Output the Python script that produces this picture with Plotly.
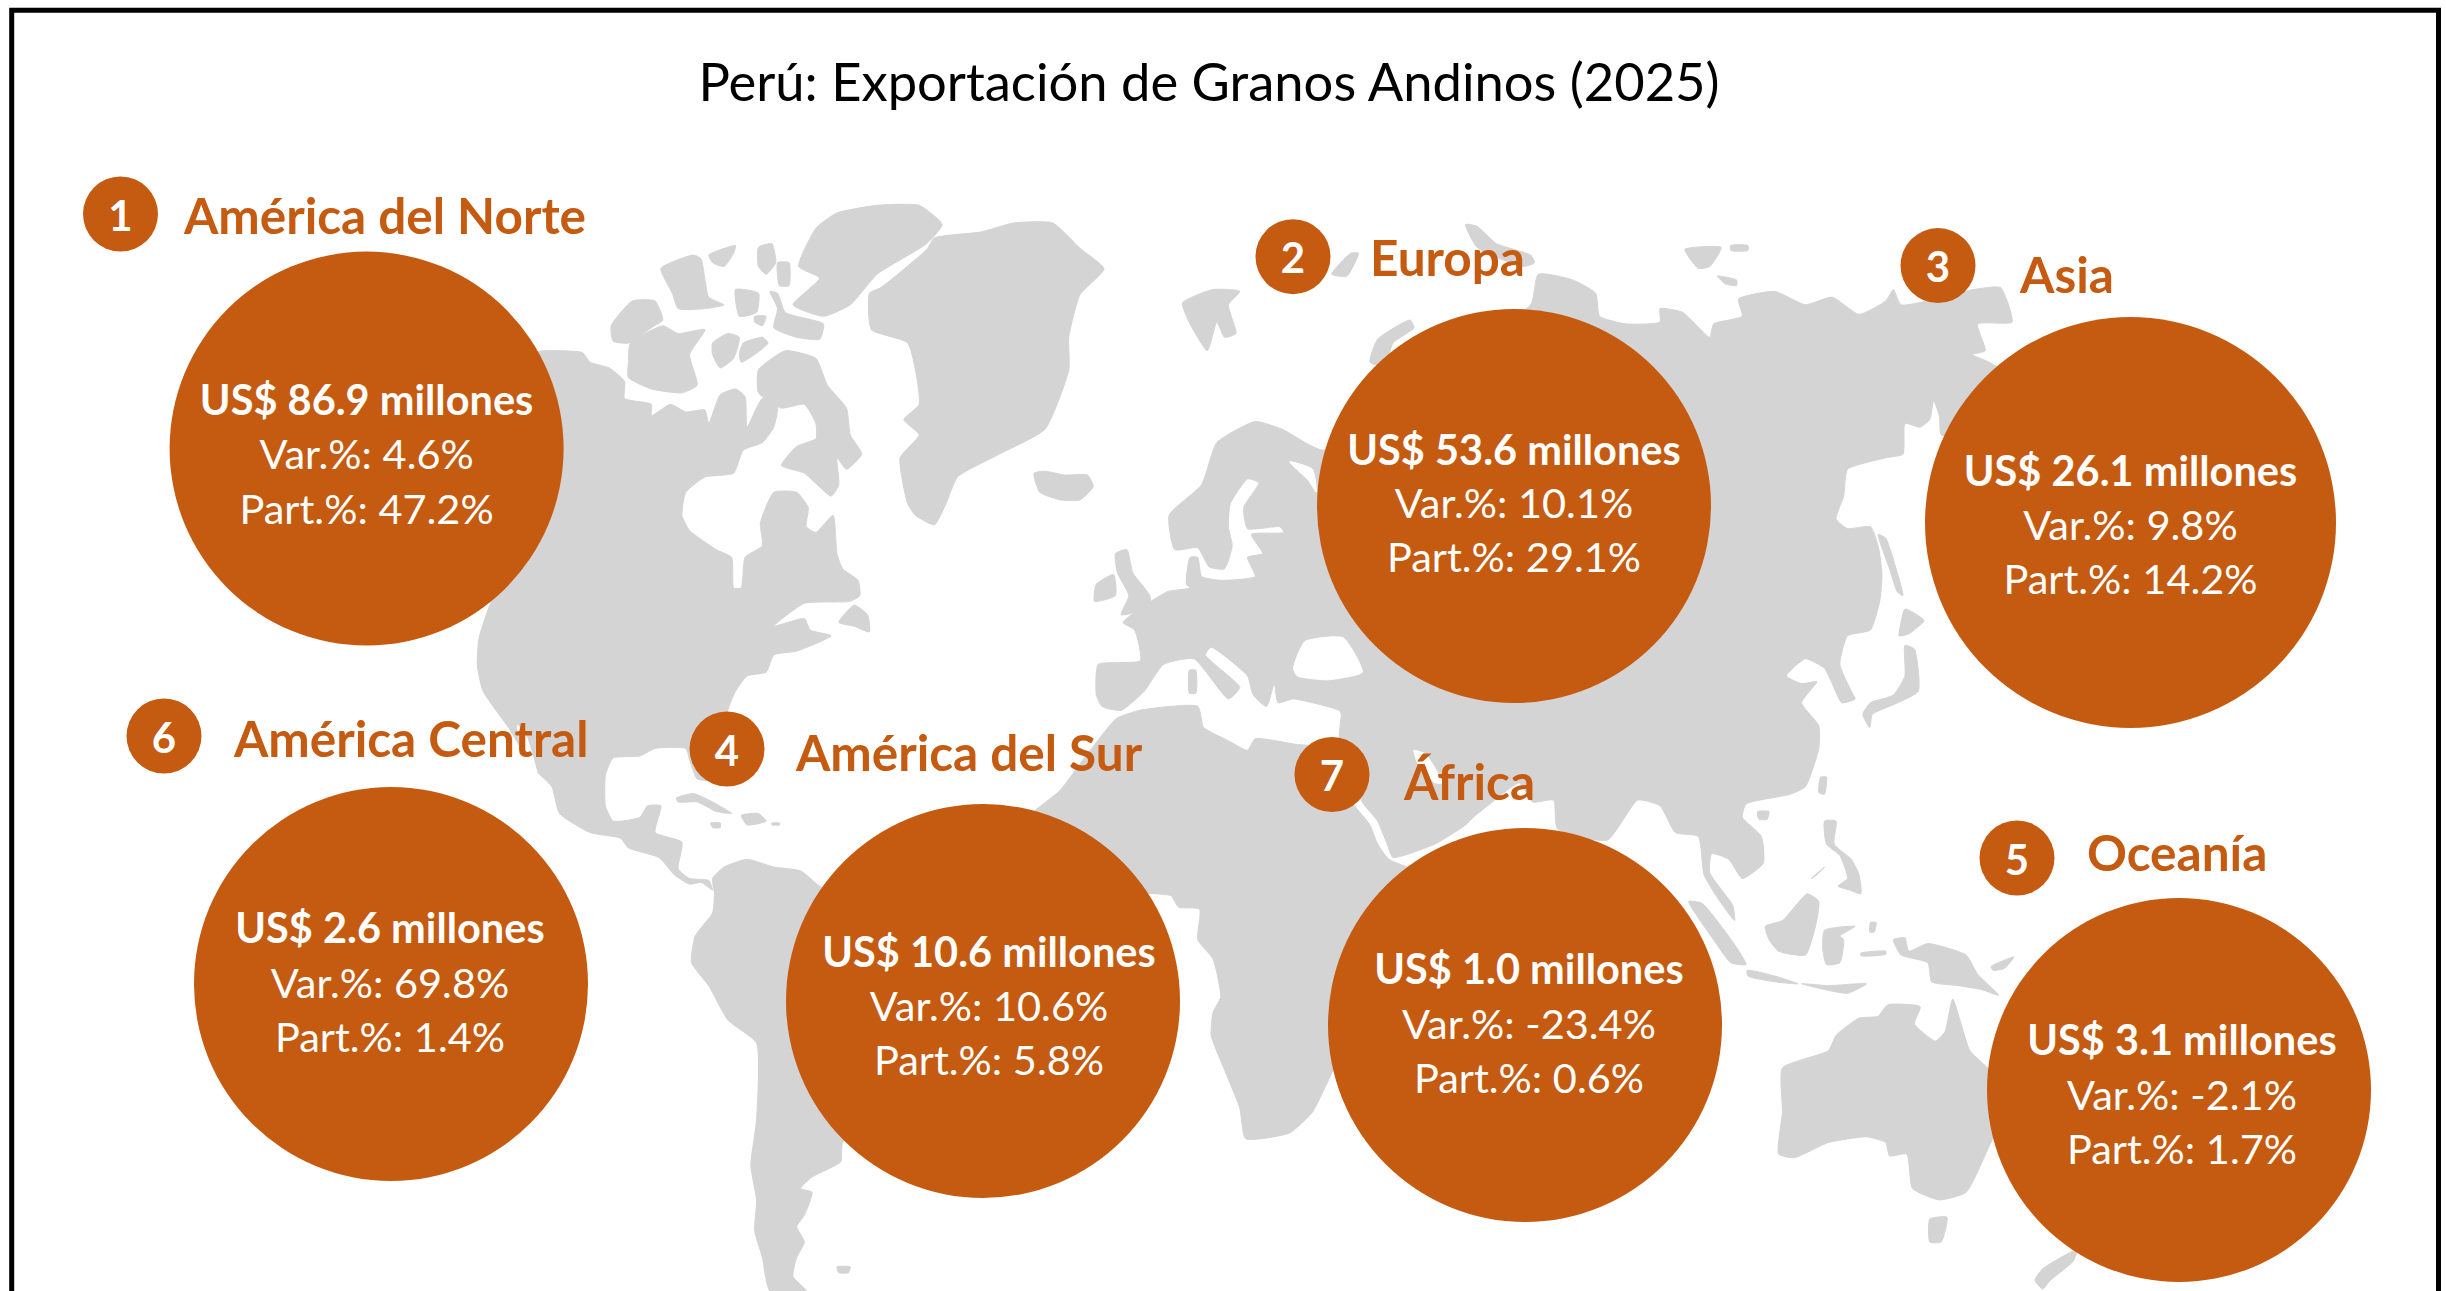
import plotly.graph_objects as go

# ---------- data ----------
TITLE = "Perú: Exportación de Granos Andinos (2025)"
ORDER = ["1", "2", "3", "6", "4", "7", "5"]
REGIONS = ["América del Norte", "Europa", "Asia", "América Central", "América del Sur", "África", "Oceanía"]
VALUES = [86.9, 53.6, 26.1, 2.6, 10.6, 1.0, 3.1]
VAR_PCT = [4.6, 10.1, 9.8, 69.8, 10.6, -23.4, -2.1]
PART_PCT = [47.2, 29.1, 14.2, 1.4, 5.8, 0.6, 1.7]

# ---------- layout of the infographic (page pixels) ----------
BIG_X = [366.6, 1514, 2130.5, 391, 983, 1525, 2179]
BIG_Y = [448.6, 506, 522.5, 984, 1001, 1025, 1090]
BIG_D = [394, 394, 411, 394, 394, 394, 384]
TXT_X = [366.6, 1514, 2130.5, 390, 989, 1529, 2182]
L1_Y = [404.5, 454.5, 475.5, 932.5, 956.5, 973.5, 1045]
L2_Y = [459, 507.5, 529.5, 987.5, 1011, 1028.5, 1099.5]
L3_Y = [513.5, 562, 583.5, 1041.5, 1064.5, 1082.5, 1153.5]
NUM_X = [120.5, 1293, 1938, 164, 727, 1332, 2017]
NUM_Y = [214, 256.7, 265.6, 736, 749, 774.5, 858]
NUM_TXT_Y = [220, 262.7, 271.6, 742, 755, 780.5, 864]
LAB_X = [184, 1370, 2020, 234, 796, 1404, 2087]
LAB_Y = [222, 264, 281, 745, 759, 788, 859]

ORANGE = "#C55A11"
GREY = "#D4D4D4"
FONT = "Lato"
K = 600 / 1568


def crop(ox, oy, pts):
    return [(ox + a * K, oy + b * K) for a, b in pts]


A = (460, 190)
B = (460, 691)
C = (1060, 190)
D = (1660, 190)
E = (1060, 691)
F = (1660, 691)

# ---------- map outlines ----------
NORTH_AMERICA = crop(*A, [(0, 600), (0, 430), (150, 430), (220, 420), (320, 425), (340, 450), (390, 465), (430, 500), (430, 545), (500, 560), (500, 590), (550, 560), (590, 580), (640, 575), (650, 610), (680, 535), (720, 520), (745, 540), (750, 620), (790, 545), (830, 560), (820, 620), (790, 660), (740, 680), (715, 740), (640, 750), (590, 790), (580, 850), (600, 890), (670, 940), (710, 960), (715, 1040), (735, 1040), (745, 960), (790, 930), (785, 870), (820, 790), (880, 790), (910, 830), (905, 880), (930, 895), (975, 850), (985, 950), (1000, 990), (1040, 1020), (1045, 1060), (1020, 1075), (900, 1080), (820, 1140), (900, 1120), (915, 1150), (970, 1165), (880, 1205), (820, 1215), (800, 1260), (750, 1270), (720, 1310)]) + crop(*B, [(700, 50), (680, 230), (620, 230), (600, 180), (590, 150), (510, 150), (470, 170), (400, 175), (380, 220), (380, 300), (400, 340), (470, 330), (490, 300), (525, 300), (510, 370), (580, 395), (570, 465), (600, 490), (650, 495), (660, 520), (630, 500), (600, 505), (560, 480), (520, 435), (440, 410), (420, 385), (340, 370), (260, 320), (240, 250), (190, 200), (130, 100), (60, 0)]) + crop(*A, [(45, 1240), (50, 1170), (80, 1080), (100, 1050), (0, 1100)])
GULF_CALIFORNIA = crop(*B, [(150, 90), (170, 110), (210, 260), (195, 262), (165, 170)])
BANKS = crop(*A, [(395, 355), (450, 290), (510, 290), (530, 340), (500, 360), (440, 400), (400, 395)])
VICTORIA = crop(*A, [(445, 400), (530, 355), (570, 375), (640, 365), (600, 430), (620, 510), (580, 530), (500, 520), (440, 490), (440, 450)])
PRINCE_WALES = crop(*A, [(660, 400), (700, 375), (730, 385), (715, 440), (680, 465), (660, 430)])
SOMERSET = crop(*A, [(740, 400), (790, 385), (805, 400), (770, 430), (735, 450), (730, 430)])
BAFFIN = crop(*A, [(780, 470), (850, 420), (930, 440), (960, 510), (1010, 570), (1020, 640), (1050, 690), (1010, 730), (985, 700), (990, 770), (970, 800), (900, 740), (840, 720), (880, 670), (930, 650), (930, 610), (900, 560), (840, 570), (780, 530)])
QE1 = crop(*A, [(525, 205), (610, 170), (630, 180), (650, 280), (690, 300), (640, 310), (570, 310), (555, 270)])
QE2 = crop(*A, [(650, 170), (720, 145), (715, 165), (690, 200), (660, 190)])
QE3 = crop(*A, [(780, 150), (815, 140), (825, 190), (800, 220), (780, 200)])
QE4 = crop(*A, [(830, 190), (860, 190), (860, 250), (835, 250)])
QE5 = crop(*A, [(720, 260), (780, 270), (775, 320), (730, 330)])
DEVON = crop(*A, [(810, 265), (830, 270), (850, 320), (950, 350), (940, 390), (880, 385), (820, 360), (830, 310)])
QE6 = crop(*A, [(770, 330), (800, 330), (790, 355), (770, 345)])
ELLESMERE = crop(*A, [(885, 200), (930, 100), (985, 60), (1090, 40), (1200, 40), (1260, 90), (1220, 140), (1090, 220), (1020, 300), (950, 330), (870, 300), (940, 230)])
GREENLAND = crop(*A, [(1070, 270), (1100, 255), (1220, 155), (1240, 125), (1360, 110), (1448, 86), (1549, 86), (1620, 152), (1683, 206), (1620, 274), (1591, 384), (1591, 470), (1529, 625), (1406, 692), (1300, 750), (1270, 820), (1240, 875), (1190, 850), (1170, 820), (1150, 700), (1200, 640), (1160, 600), (1200, 560), (1170, 400), (1075, 365)])
ICELAND = crop(*A, [(1500, 740), (1530, 735), (1580, 745), (1640, 745), (1655, 775), (1620, 810), (1570, 810), (1515, 790)])
NEWFOUNDLAND = crop(*A, [(990, 1130), (1030, 1085), (1065, 1110), (1070, 1155), (1030, 1140)])
CUBA = crop(*B, [(565, 280), (610, 268), (660, 290), (710, 320), (670, 315), (620, 290), (570, 290)])
HISPANIOLA = crop(*B, [(735, 325), (780, 320), (800, 340), (750, 350)])
JAMAICA = crop(*B, [(655, 345), (680, 345), (680, 357), (660, 357)])
PUERTO_RICO = crop(*B, [(815, 345), (835, 345), (835, 350), (815, 350)])
SOUTH_AMERICA = crop(*B, [(660, 490), (690, 460), (750, 440), (820, 460), (890, 470), (940, 510), (1300, 700), (1200, 1000), (1000, 1180), (995, 1230), (920, 1270), (890, 1300), (920, 1310), (900, 1370), (880, 1400), (900, 1440), (880, 1480), (870, 1530), (905, 1568), (810, 1568), (790, 1480), (770, 1410), (775, 1330), (760, 1240), (775, 1120), (775, 920), (700, 860), (650, 770), (605, 710), (615, 640), (660, 580), (665, 530)])
FALKLAND = crop(*B, [(985, 1505), (1020, 1505), (1015, 1520), (990, 1520)])
SVALBARD = crop(*C, [(320, 295), (400, 260), (470, 265), (440, 300), (460, 375), (430, 385), (410, 345), (385, 420), (340, 350)])
FRANZ = crop(*C, [(710, 220), (760, 165), (780, 165), (750, 225)])
NOVAYA = crop(*C, [(810, 450), (830, 390), (915, 340), (925, 360), (870, 400), (850, 460)])
ARCTIC1 = crop(*C, [(1060, 90), (1090, 95), (1140, 140), (1230, 170), (1240, 190), (1210, 200), (1090, 150)])
ARCTIC2 = crop(*D, [(65, 155), (160, 150), (130, 200), (100, 205)])
ARCTIC3 = crop(*D, [(185, 145), (230, 145), (230, 158), (185, 158)])
ARCTIC4 = crop(*D, [(150, 225), (200, 235), (200, 250), (170, 245)])
EURASIA = crop(*C, [(300, 940), (285, 850), (370, 770), (410, 660), (510, 605), (580, 625), (690, 680), (900, 500), (1230, 300), (1250, 220), (1340, 235), (1400, 270), (1410, 330), (1480, 350), (1568, 345)]) + crop(*D, [(0, 310), (60, 320), (130, 385), (140, 350), (215, 330), (205, 285), (300, 265), (380, 300), (450, 280), (520, 325), (590, 290), (610, 260), (630, 300), (820, 260), (890, 255), (920, 345), (830, 350), (850, 420), (815, 430), (860, 450), (900, 480), (780, 640), (735, 640), (730, 590), (715, 550), (705, 600), (680, 620), (640, 610), (635, 690), (590, 700), (490, 730), (480, 800), (460, 860), (490, 885), (550, 880), (570, 930), (580, 1000), (575, 1070), (550, 1150), (490, 1165), (470, 1240), (500, 1310), (510, 1330), (475, 1340), (450, 1290), (430, 1250), (380, 1225), (330, 1270), (370, 1290), (410, 1285), (370, 1340), (415, 1400)]) + crop(*F, [(415, 150), (380, 250), (340, 270), (225, 295), (215, 330), (265, 380), (270, 450), (215, 490), (180, 440), (135, 425), (130, 475), (190, 560), (195, 600), (150, 540), (115, 480), (100, 380), (40, 370), (0, 300)]) + crop(*E, [(1510, 285), (1430, 390), (1300, 360), (1290, 285), (1235, 290), (1200, 240), (1130, 290), (1080, 330), (1060, 350), (980, 400), (870, 435), (855, 400), (830, 340), (790, 290), (730, 120), (735, 60)]) + crop(*C, [(730, 1360), (610, 1330), (570, 1340), (560, 1290), (540, 1350), (505, 1320), (490, 1270), (395, 1195), (380, 1215), (470, 1300), (440, 1330), (350, 1225), (270, 1240), (220, 1310), (160, 1360), (110, 1350), (95, 1320), (100, 1240), (210, 1230), (195, 1150), (165, 1130), (280, 1050), (340, 1040), (330, 1030), (340, 960), (360, 960), (370, 1010), (420, 1020), (510, 1010), (490, 960), (530, 950), (500, 900), (585, 895), (575, 880), (490, 885), (480, 830), (520, 765), (490, 755), (445, 820), (440, 880), (450, 930), (430, 990), (390, 985), (360, 935)])
BLACK_SEA = crop(*C, [(610, 1250), (640, 1180), (740, 1170), (790, 1260), (700, 1280), (620, 1270)])
WHITE_SEA = crop(*C, [(600, 710), (660, 730), (670, 790), (650, 760)])
PERSIAN_GULF = crop(*E, [(925, 155), (955, 165), (1000, 240), (980, 240), (935, 190)])
AFRICA = crop(*E, [(150, 70), (210, 50), (360, 40), (375, 95), (440, 130), (490, 155), (510, 125), (620, 140), (700, 150), (760, 280), (770, 300), (810, 350), (830, 400), (860, 440), (1000, 500), (880, 550), (800, 800), (700, 1020), (660, 1100), (600, 1155), (485, 1170), (470, 1090), (430, 990), (395, 900), (400, 840), (420, 800), (400, 700), (360, 650), (365, 570), (310, 565), (290, 535), (250, 530), (100, 520), (-100, 350), (0, 260), (60, 180), (130, 90)])
BRITAIN = crop(*C, [(145, 950), (175, 940), (190, 1000), (235, 1060), (235, 1090), (160, 1110), (180, 1060), (150, 1000)])
IRELAND = crop(*C, [(95, 1030), (140, 1005), (145, 1060), (90, 1075)])
SARDINIA = crop(*C, [(338, 1255), (355, 1255), (355, 1315), (338, 1315)])
HONSHU = crop(*D, [(530, 1370), (550, 1340), (610, 1320), (640, 1270), (640, 1190), (665, 1200), (675, 1310), (610, 1345), (555, 1370), (548, 1405)])
HOKKAIDO = crop(*D, [(630, 1130), (640, 1095), (690, 1125), (650, 1160), (625, 1165)])
SAKHALIN = crop(*D, [(570, 900), (590, 910), (620, 1000), (635, 1060), (620, 1050), (600, 990)])
TAIWAN = crop(*F, [(420, 225), (435, 225), (430, 270), (415, 265)])
HAINAN = crop(*F, [(255, 315), (285, 315), (280, 335), (258, 335)])
LUZON = crop(*F, [(430, 340), (460, 340), (455, 400), (500, 440), (520, 480), (525, 530), (495, 520), (465, 510), (490, 490), (470, 430), (435, 400)])
PALAWAN = crop(*F, [(395, 490), (430, 460), (410, 480)])
SUMATRA = crop(*F, [(75, 550), (110, 555), (200, 670), (225, 715), (185, 710), (140, 650)])
BORNEO = crop(*F, [(275, 615), (320, 600), (385, 530), (415, 550), (405, 620), (380, 690), (310, 680), (285, 650)])
JAVA = crop(*F, [(228, 730), (300, 745), (360, 765), (300, 760), (230, 745)])
SUNDA = crop(*F, [(370, 765), (440, 770), (540, 765), (490, 790), (430, 780)])
SULAWESI = crop(*F, [(430, 625), (510, 615), (470, 640), (480, 650), (470, 710), (435, 715), (425, 670)])
HALMAHERA = crop(*F, [(550, 605), (565, 605), (560, 630), (548, 630)])
SERAM = crop(*F, [(525, 685), (590, 680), (590, 688), (525, 692)])
NEW_GUINEA = crop(*F, [(610, 650), (640, 645), (650, 680), (700, 660), (800, 690), (830, 740), (885, 795), (840, 780), (780, 770), (710, 760), (700, 710), (630, 690)])
NEW_BRITAIN = crop(*F, [(865, 720), (925, 695), (900, 725), (870, 730)])
AUSTRALIA = crop(*F, [(320, 985), (440, 940), (460, 900), (520, 855), (570, 850), (595, 820), (680, 825), (665, 870), (720, 915), (745, 890), (765, 805), (810, 940), (870, 1000), (900, 1100), (860, 1190), (800, 1310), (730, 1330), (660, 1300), (645, 1210), (600, 1215), (590, 1180), (540, 1165), (440, 1180), (350, 1220), (310, 1210), (320, 1100)])
TASMANIA = crop(*F, [(705, 1380), (750, 1375), (735, 1440), (705, 1440)])
NEW_ZEALAND = crop(*F, [(980, 1540), (1000, 1510), (1090, 1460), (1080, 1490), (1020, 1540), (1000, 1563)])

LAND = [NORTH_AMERICA, BANKS, VICTORIA, PRINCE_WALES, SOMERSET, BAFFIN, QE1, QE2, QE3, QE4, QE5, DEVON, QE6, ELLESMERE,
        GREENLAND, ICELAND, NEWFOUNDLAND, CUBA, HISPANIOLA, JAMAICA, PUERTO_RICO, SOUTH_AMERICA, FALKLAND, SVALBARD,
        FRANZ, NOVAYA, ARCTIC1, ARCTIC2, ARCTIC3, ARCTIC4, EURASIA, AFRICA, BRITAIN, IRELAND, SARDINIA, HONSHU, HOKKAIDO,
        SAKHALIN, TAIWAN, HAINAN, LUZON, PALAWAN, SUMATRA, BORNEO, JAVA, SUNDA, SULAWESI, HALMAHERA, SERAM, NEW_GUINEA,
        NEW_BRITAIN, AUSTRALIA, TASMANIA, NEW_ZEALAND]
WATER = [GULF_CALIFORNIA, BLACK_SEA, WHITE_SEA, PERSIAN_GULF]

fig = go.Figure()


def add_poly(pts, color):
    xs = [p[0] for p in pts] + [pts[0][0]]
    ys = [p[1] for p in pts] + [pts[0][1]]
    fig.add_trace(go.Scatter(x=xs, y=ys, mode="lines", fill="toself", fillcolor=color,
                             line=dict(color=color, width=1, shape="spline", smoothing=0.5),
                             hoverinfo="skip", showlegend=False))


for poly in LAND:
    add_poly(poly, GREY)
for poly in WATER:
    add_poly(poly, "#FFFFFF")

fig.add_trace(go.Scatter(x=BIG_X, y=BIG_Y, mode="markers", showlegend=False, hoverinfo="skip",
                         marker=dict(size=BIG_D, sizemode="diameter", color=ORANGE, opacity=1, line=dict(width=0))))
fig.add_trace(go.Scatter(x=NUM_X, y=NUM_Y, mode="markers", showlegend=False, hoverinfo="skip",
                         marker=dict(size=75, color=ORANGE, line=dict(width=0))))
fig.add_trace(go.Scatter(x=NUM_X, y=NUM_TXT_Y, mode="text", showlegend=False, hoverinfo="skip", text=ORDER,
                         textposition="middle center", textfont=dict(family=FONT, size=42, color="white", weight="bold")))
fig.add_trace(go.Scatter(x=LAB_X, y=LAB_Y, mode="text", showlegend=False, hoverinfo="skip", text=REGIONS,
                         textposition="middle right", textfont=dict(family=FONT, size=49.5, color=ORANGE, weight="bold")))
fig.add_trace(go.Scatter(x=TXT_X, y=L1_Y, mode="text", showlegend=False, hoverinfo="skip",
                         text=[f"US$ {v:.1f} millones" for v in VALUES], textposition="middle center",
                         textfont=dict(family=FONT, size=41.5, color="white", weight="bold")))
fig.add_trace(go.Scatter(x=TXT_X, y=L2_Y, mode="text", showlegend=False, hoverinfo="skip",
                         text=[f"Var.%: {v:.1f}%" for v in VAR_PCT], textposition="middle center",
                         textfont=dict(family=FONT, size=41.5, color="white")))
fig.add_trace(go.Scatter(x=TXT_X, y=L3_Y, mode="text", showlegend=False, hoverinfo="skip",
                         text=[f"Part.%: {v:.1f}%" for v in PART_PCT], textposition="middle center",
                         textfont=dict(family=FONT, size=41.5, color="white")))
fig.add_trace(go.Scatter(x=[1209], y=[88], mode="text", showlegend=False, hoverinfo="skip", text=[TITLE],
                         textposition="middle center", textfont=dict(family=FONT, size=52.5, color="black")))

fig.update_layout(
    width=2446, height=1291, margin=dict(l=0, r=0, t=0, b=0),
    paper_bgcolor="white", plot_bgcolor="white", showlegend=False,
    xaxis=dict(range=[0, 2446], visible=False, fixedrange=True),
    yaxis=dict(range=[1291, 0], visible=False, fixedrange=True),
    shapes=[dict(type="rect", xref="x", yref="y", x0=11.7, x1=2438.5, y0=10.3, y1=1310,
                 line=dict(color="black", width=5), fillcolor="rgba(0,0,0,0)", layer="above")],
)
fig.write_html("out.html", config={"displayModeBar": False},
               post_script="document.body.style.margin='0';")
